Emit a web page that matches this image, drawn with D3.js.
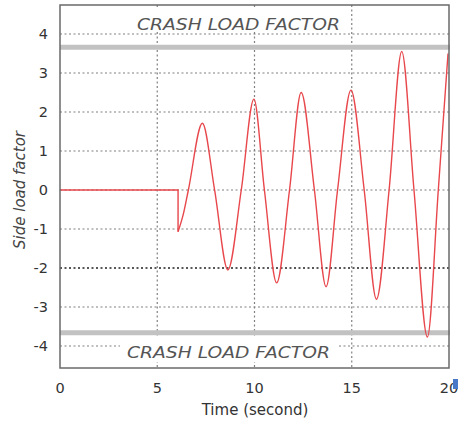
<!DOCTYPE html>
<html><head><meta charset="utf-8">
<script src="https://cdn.jsdelivr.net/npm/d3@7/dist/d3.min.js"></script>
<style>body{margin:0;background:#fff}svg{display:block}</style>
</head><body>
<svg id="c" width="466" height="427"></svg>
<script>
// ---- data ----
const stepTime = [0, 6.07, 6.07];
const stepValue = [0, 0, -1.07];
const oscTime = [6.07, 6.35, 6.6, 7.32, 7.95, 8.63, 9.32, 9.97, 10.51, 11.14, 11.8, 12.4, 13.08, 13.68, 14.27, 14.96, 15.64, 16.27, 16.92, 17.57, 18.2, 18.89, 19.45, 19.95];
const oscValue = [-1.07, -0.6, 0, 1.71, 0, -2.05, 0, 2.33, 0, -2.38, 0, 2.5, 0, -2.48, 0, 2.56, 0, -2.8, 0, 3.55, 0, -3.77, 0, 3.5];
const xTicks = [0, 5, 10, 15, 20];
const yTicks = [-4, -3, -2, -1, 0, 1, 2, 3, 4];
const crashLimits = [3.66, -3.66];
const crashLabel = "CRASH LOAD FACTOR";
const xTitle = "Time (second)";
const yTitle = "Side load factor";

// ---- layout ----
const L = 60, R = 449, T = 5, B = 368;
const svg = d3.select("#c");
const x = d3.scaleLinear().domain([0, 20]).range([L, R]);
const y = d3.scaleLinear().domain([-4.564, 4.744]).range([B, T]);
const font = "'DejaVu Sans', Verdana, sans-serif";

// grid
const g = svg.append("g");
g.selectAll("line.h").data(yTicks).join("line")
  .attr("x1", L).attr("x2", R)
  .attr("y1", d => y(d)).attr("y2", d => y(d))
  .attr("stroke", d => d === -2 ? "#222" : "#808080")
  .attr("stroke-width", d => d === -2 ? 1.6 : 1.2)
  .attr("stroke-dasharray", "2,2.5");
g.selectAll("line.v").data(xTicks.filter(d => d > 0 && d < 20)).join("line")
  .attr("y1", T).attr("y2", B)
  .attr("x1", d => x(d)).attr("x2", d => x(d))
  .attr("stroke", "#808080").attr("stroke-width", 1.2)
  .attr("stroke-dasharray", "2,2.5");

// crash label boxes
const labelY = [30, 358];
const labelX = [137, 127];
labelY.forEach((ly, i) => {
  svg.append("rect").attr("x", labelX[i] - 7).attr("y", ly - 21)
    .attr("width", 217).attr("height", i === 0 ? 22 : 25).attr("fill", "#fff");
  svg.append("text").attr("x", labelX[i]).attr("y", ly)
    .attr("font-family", font).attr("font-style", "italic")
    .attr("font-size", 16).attr("fill", "#555")
    .attr("textLength", 203).attr("lengthAdjust", "spacingAndGlyphs")
    .text(crashLabel);
});

// crash limits
svg.selectAll("line.crash").data(crashLimits).join("line")
  .attr("x1", L).attr("x2", R + 1)
  .attr("y1", d => y(d)).attr("y2", d => y(d))
  .attr("stroke", "#c2c2c2").attr("stroke-width", 5);

// series
const stepPts = stepTime.map((t, i) => [t, stepValue[i]]);
const oscPts = oscTime.map((t, i) => [t, oscValue[i]]);
const lineLin = d3.line().x(d => x(d[0])).y(d => y(d[1]));
const lineCurve = d3.line().x(d => x(d[0])).y(d => y(d[1])).curve(d3.curveMonotoneX);
svg.append("path").attr("d", lineLin(stepPts)).attr("fill", "none")
  .attr("stroke", "#e8474c").attr("stroke-width", 1.4);
svg.append("path").attr("d", lineCurve(oscPts)).attr("fill", "none")
  .attr("stroke", "#e8474c").attr("stroke-width", 1.4);

// box
svg.append("rect").attr("x", L).attr("y", T).attr("width", R - L).attr("height", B - T)
  .attr("fill", "none").attr("stroke", "#6a6a6a").attr("stroke-width", 1.5);

// tick labels
svg.selectAll("text.yt").data(yTicks).join("text")
  .attr("x", 48).attr("y", d => y(d) + 5)
  .attr("text-anchor", "end").attr("font-family", font).attr("font-size", 14.5)
  .attr("fill", "#333").text(d => d);
svg.selectAll("text.xt").data(xTicks).join("text")
  .attr("x", d => x(d)).attr("y", 393)
  .attr("text-anchor", "middle").attr("font-family", font).attr("font-size", 14.5)
  .attr("fill", "#333").text(d => d);

// blue artifact at right edge
svg.append("rect").attr("x", 453).attr("y", 379).attr("width", 5).attr("height", 10).attr("fill", "#4a78c8");

// axis titles
svg.append("text").attr("x", 255).attr("y", 415).attr("text-anchor", "middle")
  .attr("font-family", font).attr("font-size", 15).attr("fill", "#333").text(xTitle);
svg.append("text").attr("transform", `translate(25,${y(0)}) rotate(-90)`)
  .attr("text-anchor", "middle").attr("font-family", font).attr("font-style", "italic")
  .attr("font-size", 15).attr("fill", "#444").text(yTitle);
</script>
</body></html>
